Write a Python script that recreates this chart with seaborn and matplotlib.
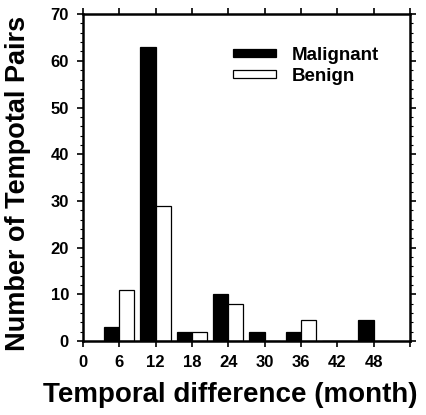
import pandas as pd
import seaborn as sns
import matplotlib.pyplot as plt
from matplotlib.ticker import MultipleLocator

# valores
months = [6, 12, 18, 24, 30, 36, 42, 48]
malignant = [3, 63, 2, 10, 2, 2, 0, 4.5]
benign = [11, 29, 2, 8, 0, 4.5, 0, 0]
x_ticks = [0, 6, 12, 18, 24, 30, 36, 42, 48]

df = pd.DataFrame({
    "month": months * 2,
    "count": malignant + benign,
    "type": ["Malignant"] * len(months) + ["Benign"] * len(months),
})

sns.set_style("ticks")
plt.rcParams["font.family"] = ["Liberation Sans", "DejaVu Sans"]
plt.rcParams["font.weight"] = "bold"
plt.rcParams["text.color"] = "black"
plt.rcParams["axes.labelcolor"] = "black"
plt.rcParams["xtick.color"] = "black"
plt.rcParams["ytick.color"] = "black"
plt.rcParams["axes.edgecolor"] = "black"

fig = plt.figure(figsize=(4.27, 4.15), dpi=100)
ax = fig.add_axes([0.194, 0.178, 0.766, 0.788])

sns.barplot(data=df, x="month", y="count", hue="type", native_scale=True,
            palette={"Malignant": "black", "Benign": "white"},
            edgecolor="black", linewidth=0.9, width=0.83, ax=ax)

ax.set_xlim(0, 54)
ax.set_ylim(0, 70)
ax.set_xticks(x_ticks + [54])
ax.set_xticklabels([str(t) for t in x_ticks] + [""], fontsize=12, fontweight="bold")
ax.yaxis.set_major_locator(MultipleLocator(10))
ax.yaxis.set_minor_locator(MultipleLocator(2))
ax.tick_params(axis="y", labelsize=12)
for lab in ax.get_yticklabels():
    lab.set_fontweight("bold")
ax.tick_params(which="major", direction="out", length=4, width=1.2,
               top=True, right=True, pad=6)
ax.tick_params(which="minor", direction="out", length=2, width=0.8, right=True)

for s in ax.spines.values():
    s.set_visible(True)
    s.set_linewidth(1.8)

ax.set_xlabel("Temporal difference (month)", fontsize=20, fontweight="bold")
ax.set_ylabel("Number of Tempotal Pairs", fontsize=19.5, fontweight="bold")
ax.xaxis.set_label_coords(0.45, -0.125)
ax.yaxis.set_label_coords(-0.16, 0.483)

handles, labels = ax.get_legend_handles_labels()
ax.legend(handles, labels, loc="upper left", bbox_to_anchor=(0.459, 0.90), frameon=False,
          borderaxespad=0, borderpad=0,
          handlelength=2.3, handleheight=0.32, handletextpad=0.85, labelspacing=0.2,
          prop={"weight": "bold", "size": 13.5})

fig.savefig("out.png", dpi=100)
